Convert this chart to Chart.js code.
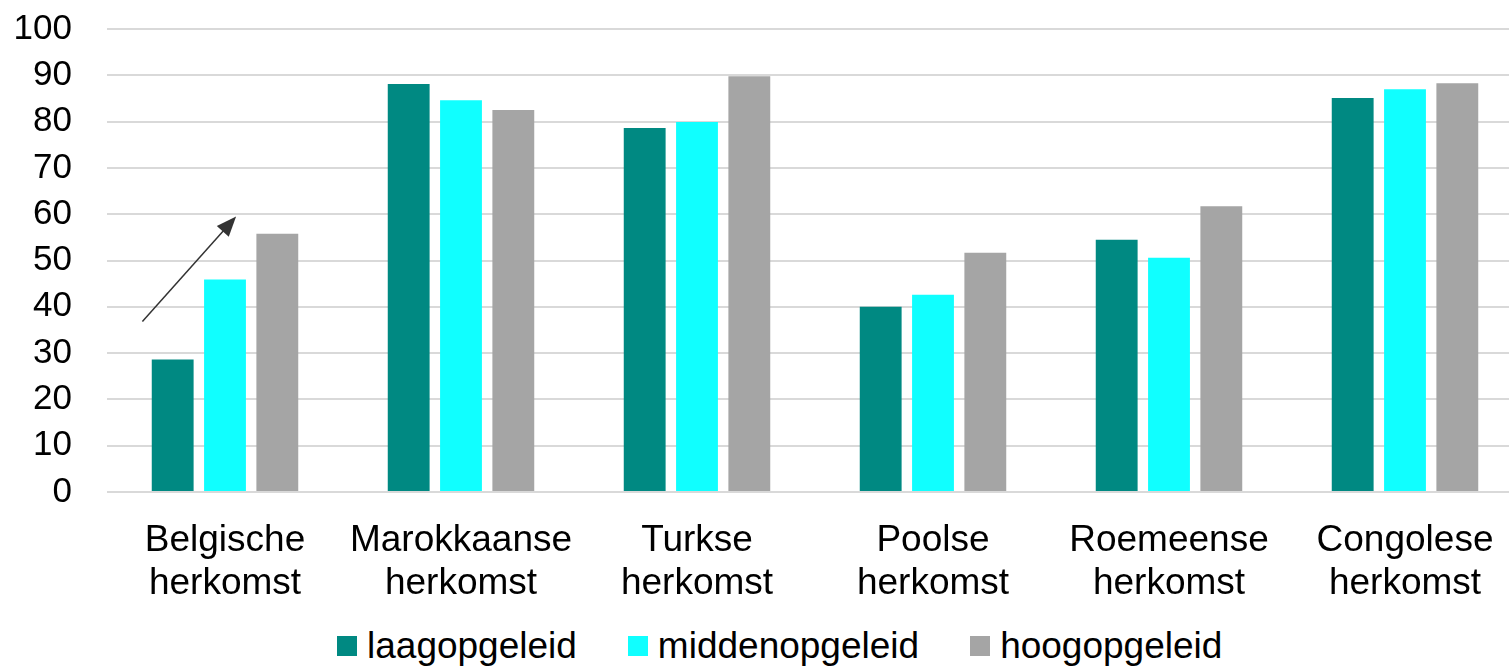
<!DOCTYPE html>
<html>
<head>
<meta charset="utf-8">
<script src="https://cdn.jsdelivr.net/npm/chart.js@4/dist/chart.umd.min.js"></script>
<style>
    body { margin: 0; background: #fff; font-family: "Liberation Sans", Arial, sans-serif; overflow: hidden; }
    #wrap { position: relative; width: 1523px; height: 610px; }
    #legend { position: absolute; left: 337px; top: 626px; height: 40px; display: flex; align-items: center; font-size: 37px; color: #000; }
    #legend .item { display: flex; align-items: center; margin-right: 51px; }
    #legend .box { width: 20px; height: 20px; margin-right: 10px; }
</style>
</head>
<body>
<div id="wrap"><canvas id="chart"></canvas></div>
<div id="legend"></div>
<script>
const categories = [
    ['Belgische', 'herkomst'],
    ['Marokkaanse', 'herkomst'],
    ['Turkse', 'herkomst'],
    ['Poolse', 'herkomst'],
    ['Roemeense', 'herkomst'],
    ['Congolese', 'herkomst']
];
const seriesNames = ['laagopgeleid', 'middenopgeleid', 'hoogopgeleid'];
const laag = [28.6, 88.1, 78.6, 40.0, 54.5, 85.1];
const midden = [45.9, 84.6, 79.9, 42.6, 50.6, 87.0];
const hoog = [55.8, 82.5, 89.8, 51.7, 61.7, 88.3];
const colors = ['#008982', '#10FFFF', '#A5A5A5'];
const yTicks = [0, 10, 20, 30, 40, 50, 60, 70, 80, 90, 100];

// arrow annotation: [category offset, value]
const arrowFrom = [-0.35, 36.8];
const arrowTo = [0.047, 59.5];

const arrowPlugin = {
    id: 'arrow',
    afterDatasetsDraw(chart) {
        const x = chart.scales.x, y = chart.scales.y;
        const step = x.getPixelForValue(1) - x.getPixelForValue(0);
        const x0 = x.getPixelForValue(0) + arrowFrom[0] * step, y0 = y.getPixelForValue(arrowFrom[1]);
        const x1 = x.getPixelForValue(0) + arrowTo[0] * step, y1 = y.getPixelForValue(arrowTo[1]);
        const ang = Math.atan2(y1 - y0, x1 - x0);
        const len = 20, half = 8;
        const ctx = chart.ctx;
        ctx.save();
        ctx.strokeStyle = '#333';
        ctx.fillStyle = '#333';
        ctx.lineWidth = 1.5;
        ctx.beginPath();
        ctx.moveTo(x0, y0);
        ctx.lineTo(x1 - Math.cos(ang) * len * 0.8, y1 - Math.sin(ang) * len * 0.8);
        ctx.stroke();
        const bx = x1 - Math.cos(ang) * len, by = y1 - Math.sin(ang) * len;
        ctx.beginPath();
        ctx.moveTo(x1, y1);
        ctx.lineTo(bx + Math.sin(ang) * half, by - Math.cos(ang) * half);
        ctx.lineTo(bx - Math.sin(ang) * half, by + Math.cos(ang) * half);
        ctx.closePath();
        ctx.fill();
        ctx.restore();
    }
};

const values = [laag, midden, hoog];
const ctx = document.getElementById('chart').getContext('2d');
new Chart(ctx, {
    type: 'bar',
    data: {
        labels: categories,
        datasets: seriesNames.map((name, i) => ({
            label: name,
            data: values[i],
            backgroundColor: colors[i],
            categoryPercentage: 0.665,
            barPercentage: 0.8
        }))
    },
    options: {
        responsive: true,
        maintainAspectRatio: false,
        animation: false,
        layout: { padding: { top: 29, left: 15, right: 0, bottom: 0 } },
        scales: {
            x: {
                grid: { display: false },
                border: { display: false },
                ticks: {
                    color: '#000',
                    font: { family: 'Liberation Sans', size: 37, lineHeight: 1.16 },
                    padding: 19,
                    maxRotation: 0,
                    autoSkip: false
                },
                afterFit: axis => {
                    axis.height = 118;
                    axis.paddingLeft = 0;
                    axis.paddingRight = 0;
                }
            },
            y: {
                min: 0,
                max: 100,
                afterBuildTicks: axis => { axis.ticks = yTicks.map(v => ({ value: v })); },
                grid: { color: '#D9D9D9', lineWidth: 2, drawTicks: false },
                border: { display: false },
                ticks: {
                    color: '#000',
                    font: { family: 'Liberation Sans', size: 35 },
                    padding: 35,
                    autoSkip: false
                },
                afterFit: axis => {
                    axis.width = 92;
                    axis.paddingTop = 0;
                    axis.paddingBottom = 0;
                }
            }
        },
        plugins: {
            legend: { display: false },
            tooltip: { enabled: false }
        }
    },
    plugins: [arrowPlugin]
});

const legend = document.getElementById('legend');
seriesNames.forEach((name, i) => {
    const item = document.createElement('div');
    item.className = 'item';
    item.innerHTML = '<span class="box" style="background:' + colors[i] + '"></span><span>' + name + '</span>';
    legend.appendChild(item);
});
</script>
</body>
</html>
